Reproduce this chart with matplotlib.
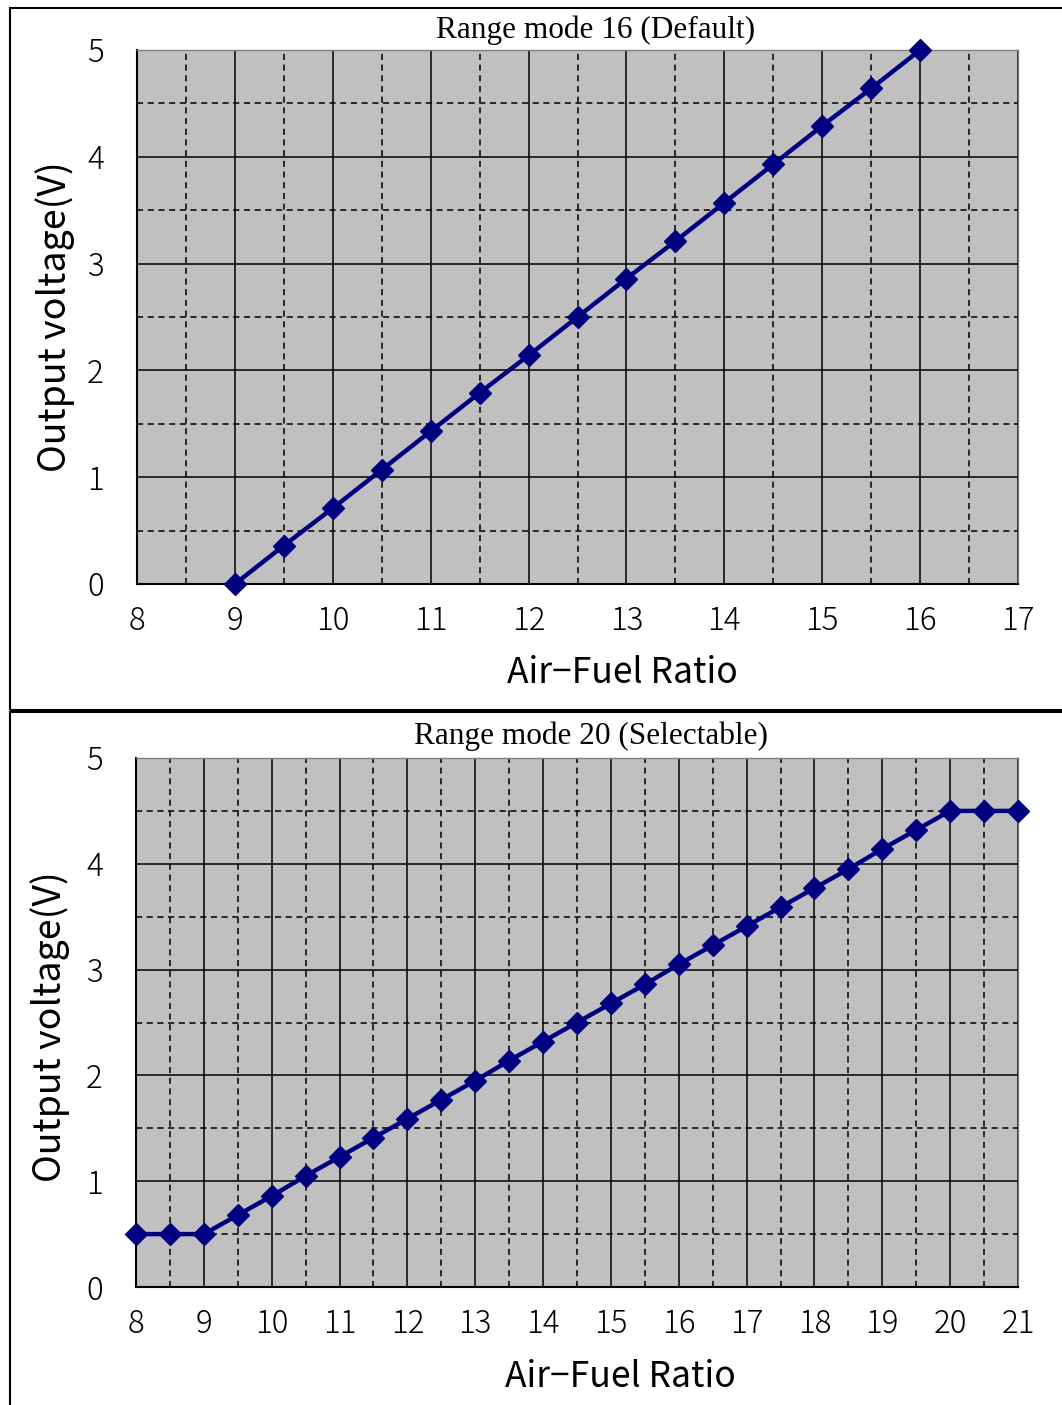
import numpy as np
import matplotlib.pyplot as plt
from matplotlib.patches import Rectangle

## Output voltage vs Air-Fuel Ratio for two range modes

# Range mode 16 (Default)
afr_16 = [9, 9.5, 10, 10.5, 11, 11.5, 12, 12.5, 13, 13.5, 14, 14.5, 15, 15.5, 16]
volt_16 = [0.0, 0.36, 0.71, 1.07, 1.43, 1.79, 2.14, 2.5, 2.86, 3.21, 3.57, 3.93, 4.29, 4.64, 5.0]

# Range mode 20 (Selectable)
afr_20 = [8, 8.5, 9, 9.5, 10, 10.5, 11, 11.5, 12, 12.5, 13, 13.5, 14, 14.5,
          15, 15.5, 16, 16.5, 17, 17.5, 18, 18.5, 19, 19.5, 20, 20.5, 21]
volt_20 = [0.5, 0.5, 0.5, 0.68, 0.86, 1.05, 1.23, 1.41, 1.59, 1.77, 1.95, 2.14, 2.32, 2.5,
           2.68, 2.86, 3.05, 3.23, 3.41, 3.59, 3.77, 3.95, 4.14, 4.32, 4.5, 4.5, 4.5]

titles = ['Range mode 16 (Default)', 'Range mode 20 (Selectable)']
x_limits = [(8, 17), (8, 21)]
y_ticks = [0, 1, 2, 3, 4, 5]

W, H = 1062, 1405
fig = plt.figure(figsize=(W / 100, H / 100), dpi=100)

def fx(px):
    return px / W

def fy(py):
    return 1 - py / H

tick_font = dict(family=['Noto Sans CJK JP', 'DejaVu Sans'], weight='light', size=22.5)
ylabel_font = dict(family=['Noto Sans CJK JP', 'DejaVu Sans'], size=27)
xlabel_font = dict(family=['Noto Sans CJK JP', 'DejaVu Sans'], size=25.5)
title_font = dict(family=['Liberation Serif', 'DejaVu Serif'], size=22.5)

## panel frames (pixel boxes)
fig.add_artist(Rectangle((fx(10), fy(710)), fx(1070) - fx(10), fy(8) - fy(710),
                         transform=fig.transFigure, fill=False, ec='black', lw=1.5))
fig.add_artist(Rectangle((fx(10), fy(1420)), fx(1070) - fx(10), fy(712) - fy(1420),
                         transform=fig.transFigure, fill=False, ec='black', lw=1.5))

## axes boxes: (left, top, right, bottom) in pixels
boxes = [(137, 50, 1018, 584), (136, 758, 1018, 1287)]
series = [(afr_16, volt_16), (afr_20, volt_20)]
title_pos = [(596, 30), (591, 736)]
ylabel_pos = [(55, 317), (50, 1027)]
xlabel_pos = [(622, 673), (620, 1377)]

for i in range(2):
    l, t, r, b = boxes[i]
    ax = fig.add_axes([fx(l), fy(b), fx(r) - fx(l), fy(t) - fy(b)])
    ax.set_facecolor('#c0c0c0')
    x0, x1 = x_limits[i]
    ax.set_xlim(x0, x1)
    ax.set_ylim(0, 5)

    ax.set_xticks(np.arange(x0, x1 + 1, 1))
    ax.set_xticks(np.arange(x0 + 0.5, x1, 0.5), minor=True)
    ax.set_yticks(y_ticks)
    ax.set_yticks(np.arange(0.5, 5, 1), minor=True)
    ax.grid(which='major', color='black', lw=1.1, ls='-')
    ax.grid(which='minor', color='black', lw=1.1, ls=(0, (4, 3)))
    ax.set_axisbelow(True)
    ax.tick_params(which='both', length=0)
    ax.tick_params(axis='y', pad=24)
    ax.tick_params(axis='x', pad=15)
    for lab in ax.get_xticklabels() + ax.get_yticklabels():
        lab.set(**tick_font)

    for side in ['left', 'bottom']:
        ax.spines[side].set_color('black')
        ax.spines[side].set_linewidth(1.5)
    for side in ['top', 'right']:
        ax.spines[side].set_color('#808080')
        ax.spines[side].set_linewidth(1)

    xs, ys = series[i]
    ax.plot(xs, ys, color='#000080', lw=3.2, marker='D', ms=11, clip_on=False, zorder=5)

    fig.text(fx(title_pos[i][0]), fy(title_pos[i][1]), titles[i],
             ha='center', va='center', **title_font)
    fig.text(fx(ylabel_pos[i][0]), fy(ylabel_pos[i][1]), 'Output voltage(V)',
             ha='center', va='center', rotation=90, **ylabel_font)
    fig.text(fx(xlabel_pos[i][0]), fy(xlabel_pos[i][1]), 'Air\u2212Fuel Ratio',
             ha='center', va='center', **xlabel_font)

fig.savefig('out.png', dpi=100)
